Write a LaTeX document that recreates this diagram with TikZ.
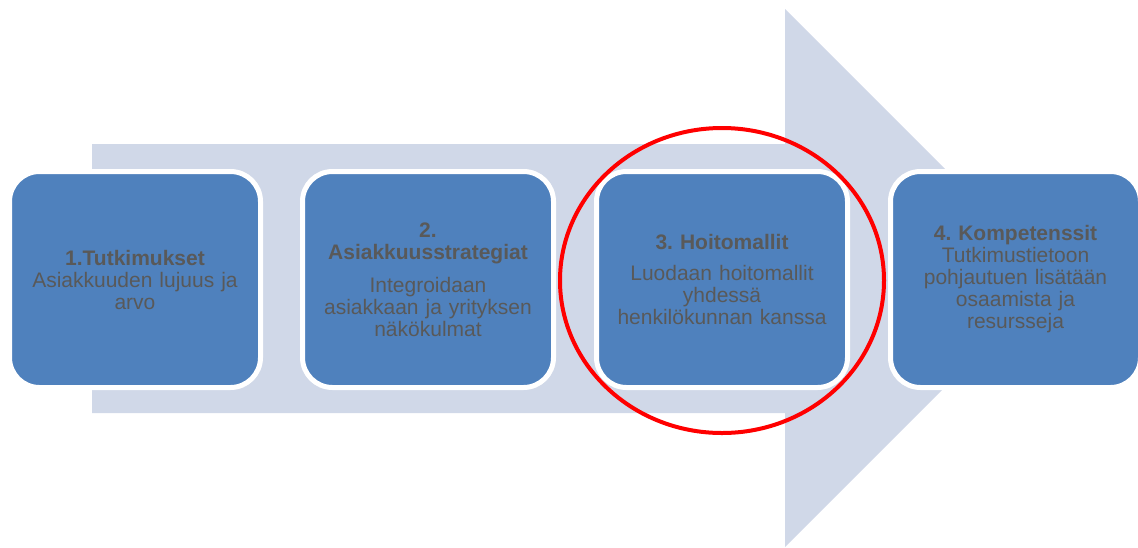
\documentclass[tikz,border=0pt]{standalone}
\usepackage{fontspec}
\usetikzlibrary{shapes.geometric}
\setmainfont{Liberation Sans}
\frenchspacing
\definecolor{arrowfill}{HTML}{D0D8E8}
\definecolor{boxfill}{HTML}{4F81BD}
\definecolor{txtgray}{HTML}{595959}
\tikzset{
  stepbox/.style={draw=white, line width=5pt, fill=boxfill, rounded corners=30pt,
    minimum width=251pt, minimum height=216pt, inner sep=0pt, outer sep=0pt, anchor=north west},
  steptext/.style={text=txtgray, align=center, text width=240pt,
    font=\fontsize{21}{22}\selectfont},
}
\begin{document}
\begin{tikzpicture}[x=1pt,y=-1pt]
\useasboundingbox (0,0) rectangle (1138,547);
% big arrow
\fill[arrowfill] (92,144) -- (785,144) -- (785,9) -- (1054,278) -- (785,547) -- (785,413) -- (92,413) -- cycle;
% boxes
\node[stepbox] (b1) at (9.5,171.5) {};
\node[stepbox] (b2) at (302.5,171.5) {};
\node[stepbox] (b3) at (596.5,171.5) {};
\node[stepbox, minimum width=250pt] (b4) at (890.5,171.5) {};
% texts
\node[steptext] (t1) at (b1.center) {\textbf{1.Tutkimukset}\\Asiakkuuden lujuus ja\\arvo};
\node[steptext] (t2) at (b2.center) {\textbf{2.}\\\textbf{Asiakkuusstrategiat}\\[11pt]Integroidaan\\asiakkaan ja yrityksen\\näkökulmat};
\node[steptext] (t3) at (b3.center) {\textbf{3. Hoitomallit}\\[9pt]Luodaan hoitomallit\\yhdessä\\henkilökunnan kanssa};
\node[steptext] (t4) at (b4.center) {\textbf{4. Kompetenssit}\\Tutkimustietoon\\pohjautuen lisätään\\osaamista ja\\resursseja};
% red highlight
\node[draw=red, line width=4pt, ellipse, minimum width=324pt, minimum height=305pt, inner sep=0pt] (hl) at (722,280.5) {};
\end{tikzpicture}
\end{document}
